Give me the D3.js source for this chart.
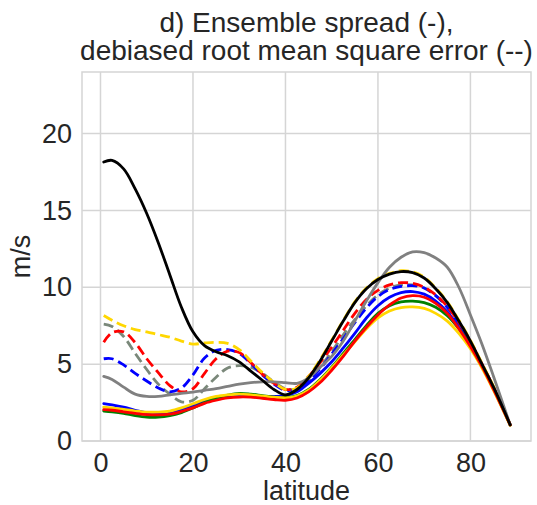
<!DOCTYPE html>
<html><head><meta charset="utf-8">
<script src="https://cdn.jsdelivr.net/npm/d3@7"></script>
<style>body{margin:0;background:#fff}svg{display:block}text{font-family:"Liberation Sans",Arial,sans-serif;fill:#262626}</style>
</head><body>
<svg id="chart" width="537" height="505"></svg>
<script>
const lats = [0.7,2.5,5,7.5,10,12.5,15,17.5,20,22.5,25,27.5,30,32.5,35,37.5,40,42.5,45,47.5,50,52.5,55,57.5,60,62.5,65,67.5,70,72.5,75,77.5,80,82.5,85,88.6];
const xTicks = [0,20,40,60,80];
const yTicks = [0,5,10,15,20];
const titleLines = ["d) Ensemble spread (-),","debiased root mean square error (--)"];
const xLabel = "latitude";
const yLabel = "m/s";

// dashed: debiased RMSE
const rmseGreyGreen = [7.6,7.45,6.8,5.7,4.65,3.7,3.05,2.55,2.65,3.4,4.15,4.75,4.9,4.8,4.4,3.85,3.4,3.4,3.9,4.8,5.8,6.9,7.9,8.8,9.5,9.95,10.15,10.15,9.95,9.45,8.7,7.7,6.45,5.0,3.5,1.05];
const rmseBlue = [5.35,5.35,4.95,4.4,3.9,3.45,3.2,3.45,4.3,5.4,5.9,5.95,5.7,5.05,4.3,3.7,3.3,3.4,3.9,4.7,5.65,6.65,7.7,8.65,9.4,9.85,10.05,10.1,9.95,9.45,8.7,7.65,6.4,4.95,3.45,1.05];
const rmseRed = [6.43,7.05,7.1,6.4,5.35,4.45,3.6,3.2,3.4,4.4,5.35,5.85,5.75,5.1,4.35,3.75,3.35,3.5,4.2,5.1,6.1,7.2,8.3,9.2,9.8,10.15,10.3,10.25,10.0,9.5,8.75,7.7,6.45,5.0,3.5,1.05];
const rmseYellow = [8.16,7.85,7.5,7.25,7.1,6.92,6.75,6.5,6.3,6.38,6.42,6.35,5.95,5.2,4.45,3.8,3.35,3.45,4.2,5.3,6.55,7.85,9.05,9.95,10.55,10.9,11.08,11.0,10.65,9.95,9.05,7.85,6.55,5.05,3.55,1.07];
// solid: ensemble spread
const spreadGrey = [4.2,4.0,3.5,3.05,2.9,2.9,3.0,3.1,3.18,3.3,3.4,3.55,3.7,3.8,3.85,3.85,3.8,3.75,4.1,4.8,5.5,6.5,7.8,9.1,10.3,11.3,11.95,12.3,12.25,11.9,11.3,10.0,8.2,6.3,4.2,1.05];
const spreadBlue = [2.43,2.35,2.2,2.0,1.85,1.8,1.85,2.05,2.3,2.55,2.75,2.85,2.9,2.9,2.9,2.9,2.95,3.2,3.75,4.4,5.15,6.05,7.0,8.0,8.8,9.35,9.65,9.72,9.55,9.1,8.4,7.4,6.2,4.9,3.4,1.05];
const spreadGreen = [1.95,1.9,1.8,1.65,1.55,1.55,1.65,1.85,2.15,2.5,2.78,2.98,3.1,3.05,2.95,2.85,2.82,2.95,3.35,4.0,4.8,5.7,6.6,7.5,8.3,8.8,9.05,9.1,9.0,8.7,8.15,7.3,6.2,4.9,3.4,1.05];
const spreadYellow = [2.2,2.15,2.05,1.95,1.88,1.88,1.95,2.15,2.42,2.7,2.9,3.0,3.05,3.0,2.92,2.85,2.8,2.92,3.3,3.95,4.75,5.6,6.45,7.3,8.0,8.45,8.68,8.72,8.62,8.3,7.8,7.0,6.0,4.75,3.3,1.02];
const spreadRed = [2.04,2.0,1.9,1.8,1.72,1.7,1.75,1.92,2.15,2.45,2.65,2.8,2.86,2.85,2.78,2.7,2.65,2.8,3.2,3.8,4.6,5.5,6.5,7.4,8.2,8.85,9.3,9.45,9.35,8.95,8.3,7.3,6.15,4.85,3.35,1.05];
const spreadBlack = [18.15,18.25,17.7,16.4,14.8,12.9,10.8,8.7,7.1,6.2,5.8,5.55,5.15,4.55,3.95,3.35,3.0,3.35,4.1,5.2,6.5,7.8,9.0,9.9,10.5,10.85,11.02,10.95,10.6,9.9,9.0,7.8,6.5,5.0,3.5,1.05];

const series = [
  {v: rmseGreyGreen, color: "#7a887a", dash: true},
  {v: rmseBlue, color: "#0000ff", dash: true},
  {v: rmseRed, color: "#ff0000", dash: true},
  {v: rmseYellow, color: "#ffd700", dash: true},
  {v: spreadGrey, color: "#808080", dash: false},
  {v: spreadBlue, color: "#0000ff", dash: false},
  {v: spreadGreen, color: "#008000", dash: false},
  {v: spreadYellow, color: "#ffd700", dash: false},
  {v: spreadRed, color: "#ff0000", dash: false},
  {v: spreadBlack, color: "#000000", dash: false}
];

const svg = d3.select("#chart");
const L = 82, R = 531, T = 72, B = 441;
const x = d3.scaleLinear().domain([-4, 93.1]).range([L, R]);
const y = d3.scaleLinear().domain([0, 24]).range([B, T]);

const fs = 27;
// grid
const g = svg.append("g");
g.selectAll("line.gx").data(xTicks).join("line")
  .attr("x1", d => x(d)).attr("x2", d => x(d)).attr("y1", T).attr("y2", B)
  .attr("stroke", "#d5d5d5").attr("stroke-width", 1.5);
g.selectAll("line.gy").data(yTicks).join("line")
  .attr("y1", d => y(d)).attr("y2", d => y(d)).attr("x1", L).attr("x2", R)
  .attr("stroke", "#d5d5d5").attr("stroke-width", 1.5);
svg.append("rect").attr("x", L).attr("y", T).attr("width", R - L).attr("height", B - T)
  .attr("fill", "none").attr("stroke", "#d5d5d5").attr("stroke-width", 1.5);

// axes via d3 axis (ticks only as labels)
const xAxis = svg.append("g").attr("transform", `translate(0,${B})`)
  .call(d3.axisBottom(x).tickValues(xTicks).tickSize(0).tickPadding(12).tickFormat(d3.format("d")));
const yAxis = svg.append("g").attr("transform", `translate(${L},0)`)
  .call(d3.axisLeft(y).tickValues(yTicks).tickSize(0).tickPadding(10).tickFormat(d3.format("d")));
[xAxis, yAxis].forEach(a => {
  a.select(".domain").remove();
  a.selectAll("text").style("font-size", fs + "px").style("font-family", '"Liberation Sans",Arial,sans-serif').attr("fill", "#262626");
});

// lines
const line = d3.line().x((d, i) => x(lats[i])).y(d => y(d)).curve(d3.curveCatmullRom.alpha(0.5));
const clip = svg.append("clipPath").attr("id", "clip").append("rect").attr("x", L).attr("y", T).attr("width", R - L).attr("height", B - T);
const lg = svg.append("g").attr("clip-path", "url(#clip)");
series.forEach(s => {
  lg.append("path").attr("d", line(s.v)).attr("fill", "none")
    .attr("stroke", s.color).attr("stroke-width", 2.8)
    .attr("stroke-dasharray", s.dash ? "10,5" : null)
    .attr("stroke-linecap", s.dash ? "butt" : "round")
    .attr("stroke-linejoin", "round");
});

// title
svg.append("text").attr("x", (L + R) / 2).attr("y", 32).attr("text-anchor", "middle").style("font-size", "28px").text(titleLines[0]);
svg.append("text").attr("x", (L + R) / 2).attr("y", 60).attr("text-anchor", "middle").style("font-size", "28px").text(titleLines[1]);
// axis labels
svg.append("text").attr("x", (L + R) / 2).attr("y", 500).attr("text-anchor", "middle").style("font-size", fs + "px").text(xLabel);
svg.append("text").attr("transform", `translate(30,${(T + B) / 2}) rotate(-90)`).attr("text-anchor", "middle").style("font-size", fs + "px").text(yLabel);
</script>
</body></html>
